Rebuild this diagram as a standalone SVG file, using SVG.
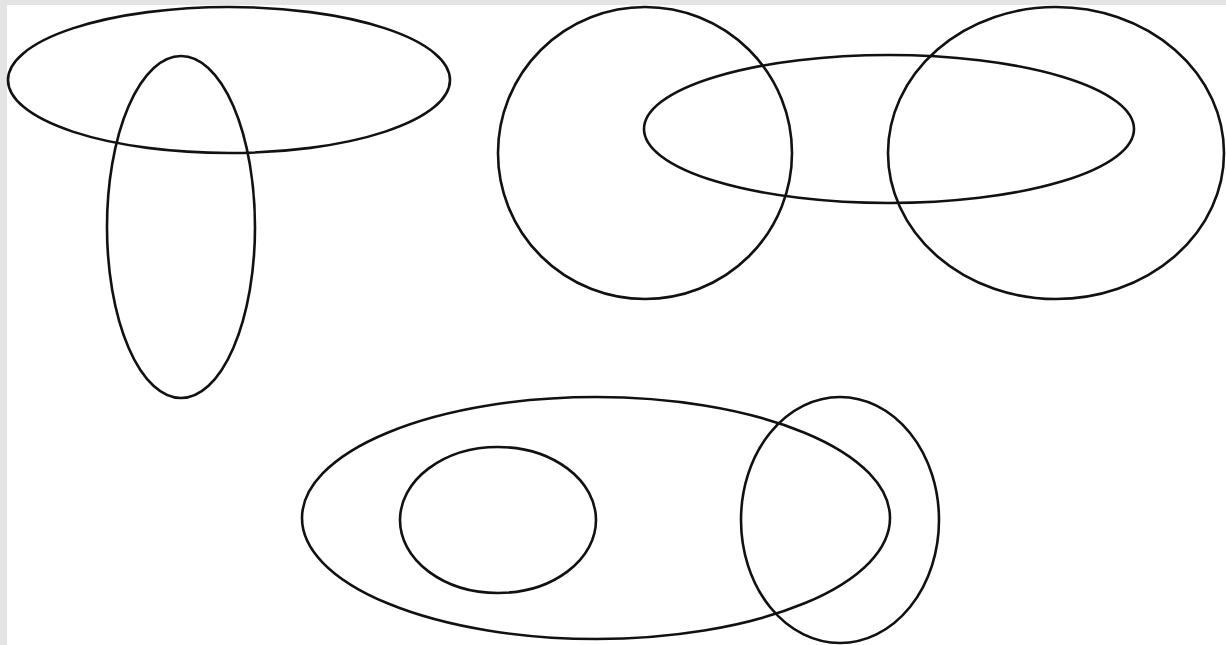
<svg xmlns="http://www.w3.org/2000/svg" width="1226" height="645" viewBox="0 0 1226 645">
<style>
.e{fill:none;stroke:#111;stroke-width:2.6}
</style>
<rect x="0" y="0" width="1226" height="645" fill="#e4e4e4"/>
<rect x="7" y="5" width="1219" height="640" fill="#ffffff"/>
<g id="group-top-left">
<ellipse id="h-ellipse-1" class="e" cx="229" cy="80" rx="221" ry="73"/>
<ellipse id="v-ellipse-1" class="e" cx="181" cy="227" rx="74" ry="171"/>
</g>
<g id="group-top-right">
<ellipse id="circle-left" class="e" cx="645" cy="153" rx="147" ry="146"/>
<ellipse id="h-ellipse-2" class="e" cx="889" cy="129" rx="245" ry="74"/>
<ellipse id="circle-right" class="e" cx="1056" cy="153" rx="168" ry="146"/>
</g>
<g id="group-bottom">
<ellipse id="big-ellipse" class="e" cx="596" cy="518" rx="294" ry="121"/>
<ellipse id="inner-ellipse" class="e" cx="498" cy="520" rx="98" ry="73"/>
<ellipse id="right-ellipse" class="e" cx="840" cy="520" rx="99" ry="123"/>
</g>
</svg>
